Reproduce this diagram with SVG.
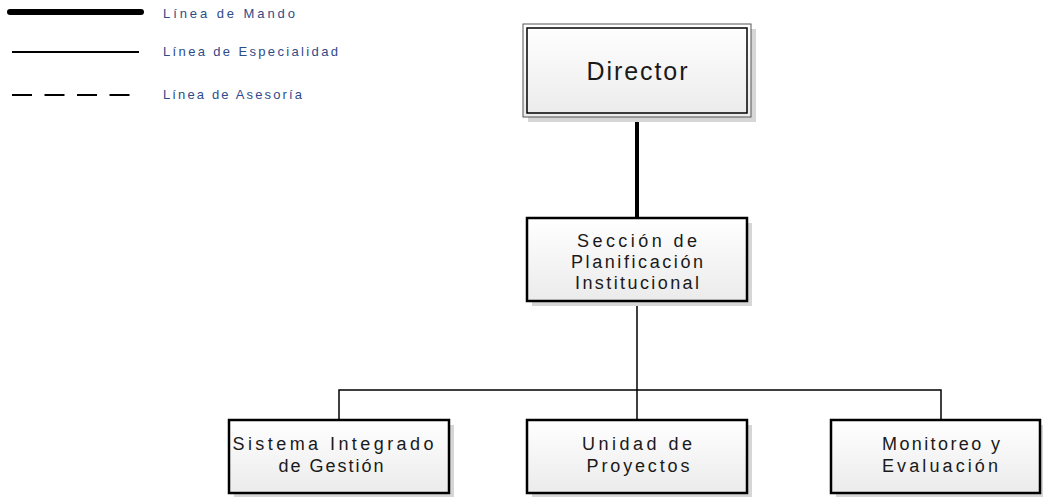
<svg xmlns="http://www.w3.org/2000/svg" width="1043" height="497" viewBox="0 0 1043 497">
  <defs>
    <linearGradient id="boxfill" x1="0" y1="0" x2="0" y2="1">
      <stop offset="0" stop-color="#ffffff"/>
      <stop offset="1" stop-color="#ebebeb"/>
    </linearGradient>
    <style>
      .shadow { fill: #d6d6d6; }
      .box { fill: url(#boxfill); stroke: #000; stroke-width: 2.5; }
      .outer { fill: url(#boxfill); stroke: #555; stroke-width: 1; }
      .inner { fill: none; stroke: #000; stroke-width: 1.5; }
      .lbl { font-family: "Liberation Sans", Arial, sans-serif; font-size: 18px; fill: #1a1a1a; text-anchor: middle; }
      .big { font-size: 25px; }
      .leg { font-family: "Liberation Sans", Arial, sans-serif; font-size: 13px; fill: #2f4b8a; }
      .mando { stroke: #000; stroke-width: 4; fill: none; }
      .esp { stroke: #000; stroke-width: 1.5; fill: none; }
    </style>
  </defs>
  <rect width="1043" height="497" fill="#ffffff"/>

  <g id="legend">
    <line x1="10" y1="12" x2="141" y2="12" stroke="#000" stroke-width="6" stroke-linecap="round"/>
    <line x1="12" y1="52" x2="139" y2="52" stroke="#000" stroke-width="2"/>
    <line x1="12" y1="95" x2="131" y2="95" stroke="#000" stroke-width="2" stroke-dasharray="20 12.5"/>
    <text class="leg" x="163" y="18" textLength="132" lengthAdjust="spacing">Línea de Mando</text>
    <text class="leg" x="163" y="56" textLength="175" lengthAdjust="spacing">Línea de Especialidad</text>
    <text class="leg" x="163" y="99" textLength="139" lengthAdjust="spacing">Línea de Asesoría</text>
  </g>

  <g id="connectors">
    <path class="mando" d="M637 117 V218"/>
    <path class="esp" d="M637 301 V420"/>
    <path class="esp" d="M339 420 V390 H941 V420"/>
  </g>

  <g id="director">
    <rect class="shadow" x="528" y="29" width="228" height="93"/>
    <rect class="outer" x="523" y="24" width="228" height="93"/>
    <rect class="inner" x="527" y="28" width="220" height="85"/>
    <text class="lbl big" x="637" y="80" textLength="101" lengthAdjust="spacing">Director</text>
  </g>

  <g id="seccion">
    <rect class="shadow" x="532" y="223" width="220" height="83"/>
    <rect class="box" x="527" y="218" width="220" height="83"/>
    <text class="lbl" x="637" y="247" textLength="120" lengthAdjust="spacing">Sección de</text>
    <text class="lbl" x="637" y="268" textLength="132" lengthAdjust="spacing">Planificación</text>
    <text class="lbl" x="637" y="289" textLength="124" lengthAdjust="spacing">Institucional</text>
  </g>

  <g id="sistema">
    <rect class="shadow" x="234" y="425" width="220" height="73"/>
    <rect class="box" x="229" y="420" width="220" height="73"/>
    <text class="lbl" x="333" y="450" textLength="201" lengthAdjust="spacing">Sistema Integrado</text>
    <text class="lbl" x="331" y="472" textLength="105" lengthAdjust="spacing">de Gestión</text>
  </g>

  <g id="unidad">
    <rect class="shadow" x="532" y="425" width="220" height="73"/>
    <rect class="box" x="527" y="420" width="220" height="73"/>
    <text class="lbl" x="637" y="450" textLength="110" lengthAdjust="spacing">Unidad de</text>
    <text class="lbl" x="638" y="472" textLength="103" lengthAdjust="spacing">Proyectos</text>
  </g>

  <g id="monitoreo">
    <rect class="shadow" x="836" y="425" width="209" height="73"/>
    <rect class="box" x="831" y="420" width="209" height="73"/>
    <text class="lbl" x="941" y="450" textLength="118" lengthAdjust="spacing">Monitoreo y</text>
    <text class="lbl" x="940" y="472" textLength="116" lengthAdjust="spacing">Evaluación</text>
  </g>
</svg>
